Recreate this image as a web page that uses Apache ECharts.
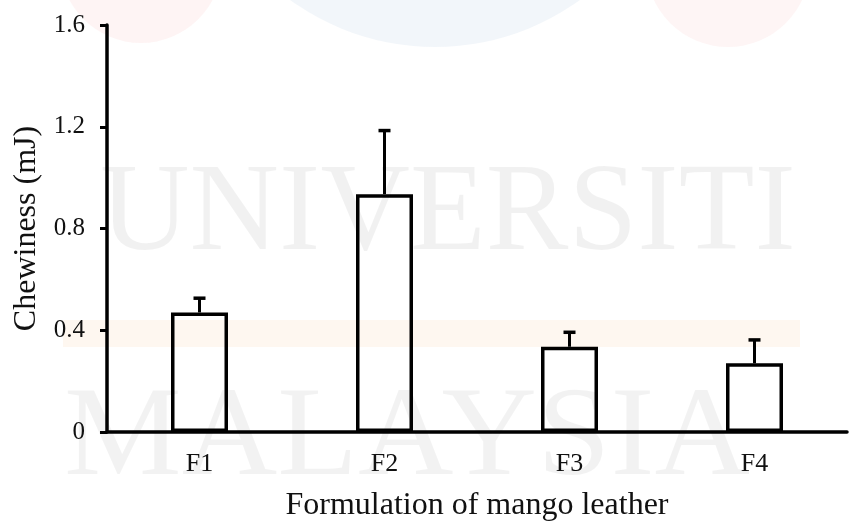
<!DOCTYPE html>
<html>
<head>
<meta charset="utf-8">
<script src="https://cdn.jsdelivr.net/npm/echarts@6/dist/echarts.min.js"></script>
<style>
  html, body { margin: 0; padding: 0; background: #fff; }
  #chart { width: 850px; height: 521px; }
</style>
</head>
<body>
<div id="chart"></div>
<script>
// Chewiness of the four mango leather formulations (mean + upper SD)
const categories = ['F1', 'F2', 'F3', 'F4'];
const chewinessMean = [0.47, 0.935, 0.335, 0.27];
const chewinessSD = [0.056, 0.25, 0.057, 0.092];
const yTicks = { min: 0, max: 1.6, interval: 0.4 };

const FONT = '"Liberation Serif", "Times New Roman", serif';
const INK = '#111';

const chart = echarts.init(document.getElementById('chart'), null, { renderer: 'canvas' });

// Faint background marks of the page (logo discs, highlight band) and watermark lettering
const backdrop = [
  { type: 'circle', z: -10, shape: { cx: 141, cy: -38, r: 81 }, style: { fill: 'rgba(240,110,110,0.08)' } },
  { type: 'circle', z: -10, shape: { cx: 435, cy: -200, r: 247 }, style: { fill: 'rgba(110,150,200,0.09)' } },
  { type: 'circle', z: -10, shape: { cx: 728, cy: -35, r: 82 }, style: { fill: 'rgba(240,110,110,0.07)' } },
  { type: 'rect', z: -10, shape: { x: 63, y: 320, width: 737, height: 27 }, style: { fill: 'rgba(250,190,140,0.13)' } },
  { type: 'text', z: 100, style: { text: 'UNIVERSITI', x: 100, y: 216, font: '124px ' + FONT, fill: 'rgba(0,0,0,0.055)', align: 'left', verticalAlign: 'middle' } },
  { type: 'text', z: 100, style: { text: 'MALAYSIA', x: 64, y: 441, font: '126px ' + FONT, fill: 'rgba(0,0,0,0.05)', align: 'left', verticalAlign: 'middle' }, scaleX: 1.05, originX: 64, originY: 441 }
];

const option = {
  backgroundColor: '#fff',
  animation: false,
  graphic: backdrop,
  grid: { left: 107, right: 3, top: 25, bottom: 89, containLabel: false, outerBoundsMode: 'none' },
  xAxis: {
    type: 'category',
    data: categories,
    name: 'Formulation of mango leather',
    nameLocation: 'middle',
    nameGap: 58,
    nameTextStyle: { fontFamily: FONT, fontSize: 32, color: INK },
    axisLine: { lineStyle: { color: '#000', width: 3.5 } },
    axisTick: { alignWithLabel: true, length: 5, lineStyle: { color: '#000', width: 3 } },
    axisLabel: { fontFamily: FONT, fontSize: 26, color: INK, margin: 19 },
    splitLine: { show: false }
  },
  yAxis: {
    type: 'value',
    min: yTicks.min,
    max: yTicks.max,
    interval: yTicks.interval,
    name: 'Chewiness (mJ)',
    nameLocation: 'middle',
    nameGap: 62,
    nameTextStyle: { fontFamily: FONT, fontSize: 32, color: INK },
    axisLine: { show: true, lineStyle: { color: '#000', width: 3.5 } },
    axisTick: { show: true, length: 7, lineStyle: { color: '#000', width: 3 } },
    axisLabel: { fontFamily: FONT, fontSize: 25, color: INK, margin: 22 },
    splitLine: { show: false }
  },
  series: [
    {
      type: 'bar',
      data: chewinessMean,
      barWidth: 57,
      itemStyle: { color: 'rgba(255,255,255,0)', borderColor: '#000', borderWidth: 3.5 },
      z: 2
    },
    {
      type: 'custom',
      z: 3,
      data: categories.map((c, i) => [i, chewinessMean[i], chewinessSD[i]]),
      renderItem: function (params, api) {
        const base = api.coord([api.value(0), api.value(1)]);
        const top = api.coord([api.value(0), api.value(1) + api.value(2)]);
        const half = 6;
        return {
          type: 'group',
          children: [
            { type: 'line', shape: { x1: base[0], y1: base[1], x2: top[0], y2: top[1] }, style: { stroke: '#000', lineWidth: 3 } },
            { type: 'line', shape: { x1: top[0] - half, y1: top[1], x2: top[0] + half, y2: top[1] }, style: { stroke: '#000', lineWidth: 3.5 } }
          ]
        };
      }
    }
  ]
};

chart.setOption(option);
</script>
</body>
</html>
